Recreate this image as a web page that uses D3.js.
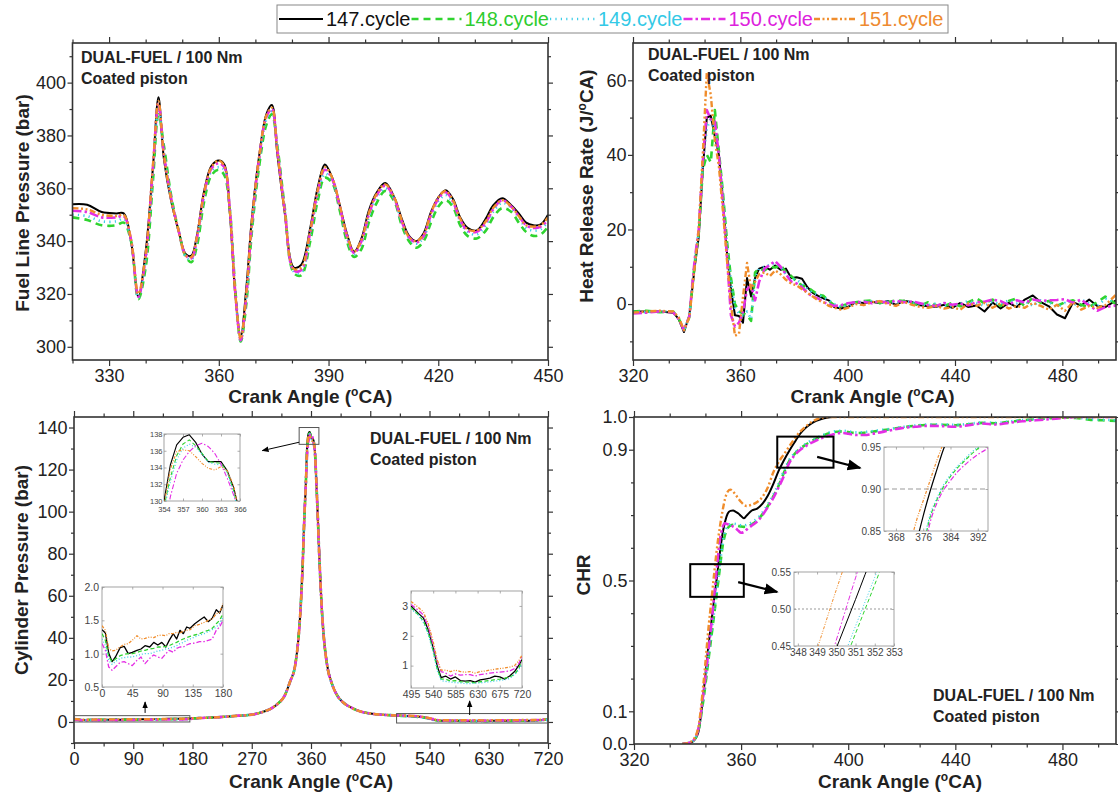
<!DOCTYPE html>
<html><head><meta charset="utf-8">
<script src="https://cdn.jsdelivr.net/npm/d3@7"></script>
<style>body{margin:0;background:#fff}svg{display:block}</style>
</head><body><svg id="c" width="1118" height="796"></svg>
<script>
// ---------------- DATA ----------------
const cycles = ["147.cycle","148.cycle","149.cycle","150.cycle","151.cycle"];

// Fuel line pressure (bar) vs crank angle
const flpAngle = [320,324,328,332,334,336,338,340,342,343.5,345,347,349,351,352.5,354,356,358,360,361.5,363,364.5,366,367.5,369,371,373,374.5,376,378,380.5,382.5,385,387,389,391,393,395,397,399,401,403,405.5,408,410,412,414,416,418,420,422,424,426,428,430.5,433,435,437.5,440,442,444,446,448,450];
const flp147 = [354,353.8,351,350.5,350.5,340,319,336,368,394.5,371,355,344,335,334.5,342,359,368.5,370.5,369,351,320,304,322,348,372,388,391.5,373,351,330,331,345,360,369,364,354,343,336,341,351.5,358,362,356.5,348.5,342,340,343,351,356.5,359.3,356,349,345,344,348.5,353.5,356.2,353.5,350.5,347,346,346.3,350];
const flp148 = [349,348,346,346,347,340,318,330,363,388,376,357,344,334,332,338,355,365,367,365,352,322,302,316,343,368,384,388,376,353,328,327,340,355,364,362,352,340,334,337,347,354,359,355,346,340,337.5,340,347,353,355.5,353,346,342,341,344,349,352.5,351,347,343.5,342,342.5,345.5];
const flp149 = [350,349.5,347.5,347.5,348.5,340,318.5,333,366,390.5,374,356,344,334,333,340,357,366.5,368,367,352,321,302.5,318,345,370,386,389,375,352,328.5,328,342,357,365.5,363,353,341.5,335,339,349,356,360,356,347,341,339,341.5,349,355,357.5,354.5,347.5,343.5,342.5,346,351,354.5,352.5,349,345,344,344.5,347.5];
const flp150 = [351.5,351,349,349,349.5,340.5,319,334,368,392,373,356,344,334.5,333.5,341,358,367.5,369.5,368,352,320.5,302.5,319,346,371,387,390,374.5,352,329,329,343.5,358.5,367,363.5,353.5,342,335.5,340,350,357,361,356,347.5,341.5,339.5,342,350,356,358.5,355,348,344,343.5,347,352,355.5,353,349.5,346,345,345.5,348];
const flp151 = [352.5,352,350,349.5,350,340.5,320,335,369,393,372.5,355.5,344,334.5,334,341.5,358.5,368,370.5,368.5,351.5,320.5,303,320,347,371.5,387.5,390.5,374,351.5,329.5,330,344,359,368,364,354,342.5,336,340.5,350.5,357.5,361.5,356.5,348,341.5,340,342.5,350.5,356.5,359,355.5,348.5,344.5,344,347.5,352.5,355.5,353,349.5,346,345.5,346,349];

// Heat release rate (J/°CA)
const hrrAngle = [320,325,330,335,337,339,341,343,344.5,346,347.5,349,350.5,352,353.5,355,356.5,358,359.5,361,362.5,364,365.5,367,369,371,373,375,377,379,381,383,385,387,389,391,393,395,397.5,400,403,406,409,412,415,418,421,424,427,430,433,436,439,442,445,448,451,454,457,460,463,466,469,472,475,478,481,484,487,490,493,496,500];
const hrr147 = [-2,-2,-2,-2.3,-4,-7.5,-3,10,18,36,50,50.5,45,40,28,14,4,-3,-3.2,-5,7,2,7,9.5,10,9.2,10.3,9.2,9.5,7,7.2,6.8,4.5,3,2.2,1.5,1,-0.8,-1.2,-0.8,0.5,0.3,0.6,0.2,0.8,-0.2,0.9,0.5,-0.3,-0.6,-0.7,-0.2,-1,0.3,-0.8,-0.4,-2,0.4,-1.2,0.3,-0.8,1.2,2.3,0.5,-0.6,-2.8,-3.8,0.5,-0.4,1.2,-0.5,-0.8,1];
const hrr148 = [-2,-1.8,-2.2,-2,-3.8,-7,-3.5,11,19,36,40,38,52,41,30,17,7,0,-2,-2.5,-3,-4.5,8.5,9.5,9,10,9.8,10.5,8.5,7.5,6,5,4.5,3.5,2.5,2.2,0.8,-0.3,-0.5,0,0.5,0.8,1,0.3,0.5,1,0.8,0.2,-0.5,0.5,-0.3,-0.5,0.3,-0.6,0.5,1.5,0.2,1.2,-0.5,0.8,1.5,-0.6,1.8,0.3,0.8,-0.5,0.5,1,-0.2,-0.8,0.5,2,0];
const hrr149 = [-2,-2.2,-1.9,-2.1,-3.8,-7.2,-3.2,11.5,19.5,38,47,50,46,40,29,16,6,-1,-2.5,-3,-2,-4,7,9.5,10,10.5,11,10,8,6.8,6.5,5.5,4,3,2.5,1.8,1,0,-0.8,-0.5,0.3,0.6,0.8,0.4,0.7,0.3,0.6,0.5,0,-0.3,0.2,-0.4,-0.6,0.2,0.8,0.3,-0.5,0.6,0,1,0.2,0.8,-0.5,1,0.5,-0.8,0.3,-0.5,1.2,0.2,-0.6,1.5,0.5];
const hrr150 = [-2.5,-2.3,-2,-2.2,-4,-7,-3.3,12,20,38,52,49.5,49,40,27,13,-3,-6,-5,-2,4,5,1,6,9.5,10.5,11.5,10,8,6,5.5,4.5,3,2,1.5,0.5,0,-0.5,-0.3,0.2,0.5,0.6,0.2,0.8,0.3,0.9,0.5,0.7,0.2,-0.3,-0.5,0.3,-0.2,0.1,-0.3,0.5,0.6,1.2,0.8,-0.2,1,0.4,1.2,0.8,1,1.1,1.3,0.3,1.2,-0.4,-1.8,-0.8,-0.4];
const hrr151 = [-2.3,-2,-1.8,-2,-3.5,-7,-3.5,10,20,40,62,56,44,37,25,12,0,-8.5,-8,2,11,4,6,8,8.5,7.5,9,8,6.5,5.5,5,4,3,2,1,0.5,-0.5,-1,-1.5,-1,0,-0.3,0.5,0.8,0,-0.5,0.6,-0.2,-0.8,-1,-0.5,-1.2,-0.8,-1.5,0.2,-0.5,0.3,-1,0.2,-1.2,-0.5,-1,0.3,-0.5,-1.5,-0.2,-1.8,0.5,-1.5,-0.5,-1,-0.3,2.5];

// Cylinder pressure (bar): intake region, peak region, exhaust region per cycle
const cpLowAngle = [0,5,10,15,20,27,33,39,45,52,58,64,71,77,83,89,95,100,106,111,116,121,126,131,138,145,152,158,164,170,175,180];
const cpLow147 = [1.36,1.31,1.01,0.88,0.95,1.09,1.11,1.0,1.02,1.05,1.07,1.12,1.1,1.17,1.13,1.17,1.1,1.2,1.3,1.22,1.35,1.3,1.4,1.38,1.45,1.5,1.55,1.48,1.53,1.66,1.61,1.73];
const cpLow148 = [1.3,1.2,0.95,0.88,0.92,0.97,0.99,1.0,1.0,1.02,1.04,1.05,1.07,1.08,1.1,1.1,1.11,1.12,1.15,1.17,1.2,1.22,1.24,1.26,1.28,1.3,1.33,1.35,1.38,1.45,1.5,1.6];
const cpLow149 = [1.22,1.12,0.9,0.84,0.88,0.93,0.94,0.95,0.95,0.97,0.99,1.0,1.0,1.02,1.04,1.05,1.07,1.08,1.1,1.12,1.15,1.17,1.2,1.22,1.25,1.28,1.3,1.33,1.36,1.4,1.45,1.55];
const cpLow150 = [1.15,1.05,0.8,0.75,0.8,0.87,0.88,0.85,0.82,0.9,0.95,0.85,0.93,0.98,0.95,0.93,1.0,1.05,1.02,1.08,1.1,1.1,1.13,1.15,1.16,1.18,1.18,1.2,1.22,1.35,1.4,1.5];
const cpLow151 = [1.42,1.35,1.08,1.04,1.05,1.1,1.14,1.15,1.2,1.27,1.22,1.23,1.25,1.24,1.27,1.28,1.27,1.3,1.3,1.32,1.31,1.34,1.35,1.36,1.42,1.44,1.47,1.5,1.52,1.6,1.62,1.75];

const cpMidLeftAngle = [190,210,230,250,270,285,300,310,320,328,336,341,344,347,350,352];
const cpMidLeft = [1.85,2.1,2.5,3.0,3.5,4.6,6.5,8.8,12.5,19,27,40,53,72,98,112];

const cpPeakAngle = [354,355,356,357,358,359,360,361,362,363,364,365,366];
const cpPeak147 = [130,134.3,136.7,137.6,137.9,137.0,135.6,134.7,134.7,134.7,133.6,131.6,128.5];
const cpPeak148 = [129.3,132.8,135.4,136.8,137.3,136.6,135.7,134.7,134.6,134.5,133.5,131.2,128];
const cpPeak149 = [129,132.3,134.9,136.3,136.8,136.4,135.6,134.6,134.4,134.3,133.3,131,127.8];
const cpPeak150 = [126.5,130.5,133.3,134.9,135.9,136.6,136.9,136.5,135.7,134.4,132.7,130.7,128.5];
const cpPeak151 = [129.5,133.8,135.9,136.1,136.0,135.3,134.5,133.9,133.7,134.1,133.6,131.8,128];

const cpMidRightAngle = [368,370,373,376,379,384,392,400,410,420,435,450,470,490];
const cpMidRight = [115,100,76,56,42,28,18,12.5,9,7,5,4,3.4,3.1];

const cpHighAngle = [495,510,520,530,540,548,556,565,575,585,595,605,615,625,635,645,655,665,675,685,695,705,713,720];
const cpHigh147 = [3.0,2.75,2.6,2.2,1.6,1.0,0.6,0.65,0.55,0.62,0.5,0.48,0.5,0.45,0.52,0.55,0.58,0.65,0.62,0.55,0.65,0.8,1.0,1.2];
const cpHigh148 = [2.95,2.7,2.5,2.1,1.5,0.9,0.55,0.55,0.48,0.5,0.46,0.45,0.45,0.42,0.46,0.48,0.5,0.53,0.55,0.58,0.62,0.7,0.9,1.15];
const cpHigh149 = [2.9,2.7,2.45,2.05,1.45,0.85,0.5,0.47,0.45,0.43,0.42,0.4,0.4,0.41,0.42,0.44,0.46,0.48,0.5,0.53,0.57,0.7,0.85,1.05];
const cpHigh150 = [3.05,2.85,2.7,2.3,1.7,1.15,0.8,0.75,0.65,0.72,0.68,0.7,0.7,0.65,0.7,0.72,0.75,0.77,0.78,0.8,0.82,0.9,1.05,1.3];
const cpHigh151 = [3.15,2.95,2.8,2.4,1.8,1.2,0.85,0.85,0.8,0.85,0.8,0.78,0.8,0.75,0.8,0.82,0.85,0.88,0.9,0.92,0.95,1.0,1.15,1.35];

// Cumulative heat release (CHR)
const chrAngle = [338,340,342,344,346,348,349,350,351,352,353,354,355,356,357,358,359,360,361,362,364,366,368,370,372,374,376,378,380,382,384,386,388,390,392,394,396,398,400,403,406,410,415,420,425,430,435,440,445,450,455,460,465,470,475,480,485,490,495,500];
const chr147 = [0,0.002,0.008,0.035,0.16,0.315,0.38,0.447,0.513,0.58,0.64,0.68,0.705,0.713,0.714,0.71,0.705,0.697,0.69,0.698,0.714,0.72,0.735,0.76,0.795,0.835,0.868,0.897,0.923,0.948,0.966,0.979,0.988,0.994,0.998,1,1,1,1,1,1,1,1,1,1,1,1,1,1,1,1,1,1,1,1,1,1,1,1,1];
const chr148 = [0,0.002,0.008,0.04,0.14,0.27,0.335,0.40,0.467,0.533,0.60,0.64,0.66,0.668,0.67,0.669,0.667,0.665,0.664,0.665,0.672,0.684,0.703,0.728,0.757,0.79,0.83,0.866,0.887,0.903,0.915,0.925,0.933,0.941,0.948,0.953,0.955,0.956,0.954,0.951,0.952,0.956,0.962,0.968,0.973,0.976,0.976,0.975,0.978,0.982,0.981,0.985,0.99,0.993,0.996,0.998,0.997,0.992,0.99,0.988];
const chr149 = [0,0.002,0.009,0.042,0.145,0.28,0.345,0.41,0.477,0.543,0.61,0.648,0.665,0.672,0.674,0.673,0.671,0.669,0.668,0.67,0.678,0.69,0.708,0.733,0.762,0.796,0.836,0.869,0.889,0.905,0.917,0.927,0.935,0.943,0.95,0.955,0.957,0.958,0.956,0.953,0.954,0.958,0.963,0.969,0.974,0.977,0.977,0.976,0.979,0.983,0.982,0.986,0.991,0.994,0.997,0.999,0.998,0.994,0.992,0.99];
const chr150 = [0,0.002,0.01,0.045,0.16,0.30,0.375,0.458,0.542,0.62,0.66,0.675,0.672,0.67,0.665,0.66,0.652,0.646,0.648,0.655,0.668,0.68,0.7,0.725,0.752,0.785,0.82,0.86,0.883,0.899,0.91,0.92,0.928,0.935,0.941,0.946,0.95,0.951,0.949,0.945,0.945,0.95,0.958,0.966,0.97,0.973,0.972,0.97,0.975,0.98,0.977,0.982,0.987,0.99,0.993,0.997,1,1,1,1];
const chr151 = [0,0.003,0.012,0.05,0.19,0.37,0.446,0.526,0.60,0.66,0.71,0.75,0.772,0.778,0.772,0.762,0.75,0.74,0.732,0.728,0.732,0.74,0.756,0.785,0.83,0.862,0.886,0.91,0.934,0.955,0.97,0.983,0.992,0.998,1,1,1,1,1,1,1,1,1,1,1,1,1,1,1,1,1,1,1,1,1,1,1,1,1,1];

// Tick labels
const flpXTicks = [330,360,390,420,450];
const flpYTicks = [300,320,340,360,380,400];
const hrrXTicks = [320,360,400,440,480];
const hrrYTicks = [0,20,40,60];
const cpXTicks = [0,90,180,270,360,450,540,630,720];
const cpYTicks = [0,20,40,60,80,100,120,140];
const chrXTicks = [320,360,400,440,480];
const chrYTicks = [0.0,0.1,0.5,0.9,1.0];
const insetPeakX = [354,357,360,363,366], insetPeakY = [130,132,134,136,138];
const insetLowX = [0,45,90,135,180], insetLowY = [0.5,1.0,1.5,2.0];
const insetHighX = [495,540,585,630,675,720], insetHighY = [1,2,3];
const insetAX = [368,376,384,392], insetAY = [0.85,0.90,0.95];
const insetBX = [348,349,350,351,352,353], insetBY = [0.45,0.50,0.55];

// ---------------- STYLE ----------------
const FONT = '"Liberation Sans", Arial, Helvetica, sans-serif';
const styles = [
  {color:"#000000", dash:null, w:2.0, sd:null},
  {color:"#2fd42f", dash:"7,5", w:2.6, sd:"4,2.5"},
  {color:"#3ccde8", dash:"1.2,4.2", w:2.6, sd:"1,2"},
  {color:"#e42ee4", dash:"9,3,2.5,3", w:2.6, sd:"5,2,1.5,2"},
  {color:"#f08d2c", dash:"6,2.5,2,2.5,2,2.5", w:2.4, sd:"3,1.5,1,1.5,1,1.5"},
];
const legendColors = ["#111111","#2fcc2f","#33c9e6","#dd22dd","#ee8a30"];

const svg = d3.select("#c");
const defs = svg.append("defs");
let clipN = 0;

function addArrowMarker(id, size) {
  defs.append("marker").attr("id", id).attr("viewBox","0 0 10 10").attr("refX",9).attr("refY",5)
    .attr("markerWidth",size).attr("markerHeight",size).attr("orient","auto").attr("markerUnits","userSpaceOnUse")
    .append("path").attr("d","M0,1 L10,5 L0,9 Z").attr("fill","#000");
}
addArrowMarker("arrS", 7);
addArrowMarker("arrB", 14);

function axisGroup(g, fn, scale, vals, size, pad, fmt, fs, tx, ty) {
  const a = fn(scale).tickValues(vals).tickSize(size).tickSizeOuter(0).tickPadding(pad).tickFormat(fmt || (()=>""));
  const s = g.append("g").attr("transform", `translate(${tx},${ty})`).call(a);
  s.select(".domain").remove();
  s.selectAll("line").attr("stroke","#333").attr("stroke-width",1.2);
  s.selectAll("text").attr("font-size", fs).attr("font-family", FONT).attr("fill","#222");
  return s;
}

function panel(o) {
  const x = d3.scaleLinear().domain(o.xDomain).range([o.left, o.right]);
  const y = d3.scaleLinear().domain(o.yDomain).range([o.bottom, o.top]);
  const g = svg.append("g");
  const id = "clip" + (clipN++);
  defs.append("clipPath").attr("id", id).append("rect")
    .attr("x", o.left).attr("y", o.top).attr("width", o.right - o.left).attr("height", o.bottom - o.top);
  const xf = o.xFmt || d3.format("d"), yf = o.yFmt || d3.format("d");
  axisGroup(g, d3.axisBottom, x, o.xTicks, 6, 3, xf, 18, 0, o.bottom);
  axisGroup(g, d3.axisBottom, x, o.xMinor, 3.5, 3, null, 18, 0, o.bottom);
  axisGroup(g, d3.axisTop, x, o.xTicks, 6, 3, null, 18, 0, o.top);
  axisGroup(g, d3.axisTop, x, o.xMinor, 3.5, 3, null, 18, 0, o.top);
  axisGroup(g, d3.axisLeft, y, o.yTicks, 5, 1.5, yf, 18, o.left, 0);
  axisGroup(g, d3.axisLeft, y, o.yMinor, 3, 1.5, null, 18, o.left, 0);
  axisGroup(g, d3.axisRight, y, o.yTicks, 5, 2, null, 18, o.right, 0);
  axisGroup(g, d3.axisRight, y, o.yMinor, 3, 2, null, 18, o.right, 0);
  const plot = g.append("g").attr("clip-path", `url(#${id})`);
  o.series.forEach((s, i) => {
    const st = styles[i];
    const line = d3.line().x(d => x(d[0])).y(d => y(d[1])).curve(o.curve || d3.curveLinear);
    plot.append("path").datum(d3.zip(s.x, s.y)).attr("d", line)
      .attr("fill","none").attr("stroke", st.color).attr("stroke-width", st.w)
      .attr("stroke-dasharray", st.dash).attr("stroke-linecap", st.cap || "butt").attr("stroke-linejoin","round");
  });
  g.append("rect").attr("x", o.left).attr("y", o.top).attr("width", o.right - o.left).attr("height", o.bottom - o.top)
    .attr("fill","none").attr("stroke","#333").attr("stroke-width",1.6);
  const xt = g.append("text").attr("x", (o.left + o.right)/2 + (o.xTitleDx||0)).attr("y", o.xTitleY)
    .attr("text-anchor","middle").attr("font-family",FONT).attr("font-weight","bold").attr("font-size",19).attr("fill","#222");
  xt.append("tspan").text("Crank Angle (");
  xt.append("tspan").text("o").attr("font-size",12).attr("dy",-7);
  xt.append("tspan").text("CA)").attr("dy",7);
  const yt = g.append("text").attr("transform", `translate(${o.yTitleX},${o.yTitleCY}) rotate(-90)`)
    .attr("text-anchor","middle").attr("font-family",FONT).attr("font-weight","bold").attr("font-size",19).attr("fill","#222");
  o.yTitle(yt);
  const a = g.append("g").attr("font-family",FONT).attr("font-weight","bold").attr("font-size",16).attr("fill","#222");
  a.append("text").attr("x", o.annX).attr("y", o.annY).text("DUAL-FUEL / 100 Nm");
  a.append("text").attr("x", o.annX).attr("y", o.annY + 21).text("Coated piston");
  return {x, y, g};
}

function inset(o) {
  const x = d3.scaleLinear().domain(o.xDomain).range([o.left, o.right]);
  const y = d3.scaleLinear().domain(o.yDomain).range([o.bottom, o.top]);
  const g = svg.append("g");
  const id = "clip" + (clipN++);
  defs.append("clipPath").attr("id", id).append("rect")
    .attr("x", o.left).attr("y", o.top).attr("width", o.right - o.left).attr("height", o.bottom - o.top);
  g.append("rect").attr("x", o.left).attr("y", o.top).attr("width", o.right - o.left).attr("height", o.bottom - o.top)
    .attr("fill","#fff").attr("stroke","#999").attr("stroke-width",0.9);
  const ax = (fn, sc, vals, fmt, tx, ty, size, pad) => {
    const a = fn(sc).tickValues(vals).tickSize(size).tickSizeOuter(0).tickPadding(pad).tickFormat(fmt || (()=>""));
    const s = g.append("g").attr("transform",`translate(${tx},${ty})`).call(a);
    s.select(".domain").remove();
    s.selectAll("line").attr("stroke","#999").attr("stroke-width",0.8);
    s.selectAll("text").attr("font-size", o.fs).attr("font-family",FONT).attr("fill","#444");
  };
  const pad = o.pad || 2, xpad = o.xpad || pad;
  ax(d3.axisBottom, x, o.xTicks, o.xFmt || d3.format("d"), 0, o.bottom, -2.5, xpad);
  ax(d3.axisTop, x, o.xTicks, null, 0, o.top, -2.5, pad);
  ax(d3.axisLeft, y, o.yTicks, o.yFmt || d3.format("d"), o.left, 0, -2.5, pad);
  ax(d3.axisRight, y, o.yTicks, null, o.right, 0, -2.5, pad);
  if (o.refY !== undefined) {
    g.append("line").attr("x1", o.left).attr("x2", o.right).attr("y1", y(o.refY)).attr("y2", y(o.refY))
      .attr("stroke","#999").attr("stroke-width",1).attr("stroke-dasharray", o.refDash);
  }
  const plot = g.append("g").attr("clip-path", `url(#${id})`);
  o.series.forEach((s, i) => {
    const st = styles[i];
    const line = d3.line().x(d => x(d[0])).y(d => y(d[1])).curve(o.curve || d3.curveLinear);
    plot.append("path").datum(d3.zip(s.x, s.y)).attr("d", line)
      .attr("fill","none").attr("stroke", st.color).attr("stroke-width", o.lw || 1.2)
      .attr("stroke-dasharray", st.sd).attr("stroke-linejoin","round");
  });
  return {x, y, g};
}

function minorThirds(lo, hi, step) {
  const out = [];
  for (let k = 0; lo + k * step / 3 <= hi + 1e-9; k++) if (k % 3 !== 0) out.push(lo + k * step / 3);
  return out;
}
function minorBetween(lo, hi, step, majorStep) {
  const out = [];
  for (let v = lo; v <= hi + 1e-9; v += step) {
    const r = ((v % majorStep) + majorStep) % majorStep;
    if (r > 1e-6 && majorStep - r > 1e-6) out.push(v);
  }
  return out;
}

// ---------------- PANEL 1: fuel line pressure ----------------
const flpSeries = [flp147, flp148, flp149, flp150, flp151].map(v => ({x: flpAngle, y: v}));
panel({
  left: 72.5, right: 548, top: 43, bottom: 360,
  xDomain: [320, 450], yDomain: [295, 415],
  xTicks: flpXTicks, xMinor: minorBetween(320, 450, 10, 30),
  yTicks: flpYTicks, yMinor: minorBetween(300, 410, 10, 20),
  series: flpSeries, curve: d3.curveCatmullRom.alpha(0.5),
  xTitleY: 403, yTitleX: 29, yTitleCY: 203,
  yTitle: t => t.text("Fuel Line Pressure (bar)"),
  annX: 81, annY: 63
});

// ---------------- PANEL 2: heat release rate ----------------
const hrrSeries = [hrr147, hrr148, hrr149, hrr150, hrr151].map(v => ({x: hrrAngle, y: v}));
panel({
  left: 633, right: 1116, top: 43, bottom: 360,
  xDomain: [320, 500], yDomain: [-15, 70],
  xTicks: hrrXTicks, xMinor: minorThirds(320, 500, 40),
  yTicks: hrrYTicks, yMinor: [-10, 10, 30, 50],
  series: hrrSeries, curve: d3.curveLinear,
  xTitleY: 403, xTitleDx: -2, yTitleX: 593, yTitleCY: 186,
  yTitle: t => { t.append("tspan").text("Heat Release Rate (J/"); t.append("tspan").text("o").attr("font-size",12).attr("dy",-7); t.append("tspan").text("CA)").attr("dy",7); },
  annX: 648, annY: 60
});

// ---------------- PANEL 3: cylinder pressure ----------------
const cpLowAll = [cpLow147, cpLow148, cpLow149, cpLow150, cpLow151];
const cpPeakAll = [cpPeak147, cpPeak148, cpPeak149, cpPeak150, cpPeak151];
const cpHighAll = [cpHigh147, cpHigh148, cpHigh149, cpHigh150, cpHigh151];
const cpMainAngle = [...cpLowAngle, ...cpMidLeftAngle, ...cpPeakAngle, ...cpMidRightAngle, ...cpHighAngle];
const cpSeries = cycles.map((c, i) => ({x: cpMainAngle, y: [...cpLowAll[i], ...cpMidLeft, ...cpPeakAll[i], ...cpMidRight, ...cpHighAll[i]]}));
const p3 = panel({
  left: 74, right: 548, top: 417, bottom: 743,
  xDomain: [0, 720], yDomain: [-10, 145],
  xTicks: cpXTicks, xMinor: [45,135,225,315,405,495,585,675],
  yTicks: cpYTicks, yMinor: [-10,10,30,50,70,90,110,130],
  series: cpSeries, curve: d3.curveMonotoneX,
  xTitleY: 788, yTitleX: 28, yTitleCY: 570,
  yTitle: t => t.text("Cylinder Pressure (bar)"),
  annX: 370, annY: 444
});
const markBoxes3 = [[342,372,132,140],[0,176,0,3],[490,720,-0.5,4]];
markBoxes3.forEach(b => p3.g.append("rect").attr("x", p3.x(b[0])).attr("y", p3.y(b[3]))
  .attr("width", p3.x(b[1]) - p3.x(b[0])).attr("height", p3.y(b[2]) - p3.y(b[3]))
  .attr("fill","none").attr("stroke","#555").attr("stroke-width",1));
const arrows3 = [[342,133,286,129],[108,4.3,108,9.5],[601,3.3,601,10]];
arrows3.forEach(a => p3.g.append("line").attr("x1",p3.x(a[0])).attr("y1",p3.y(a[1])).attr("x2",p3.x(a[2])).attr("y2",p3.y(a[3]))
  .attr("stroke","#000").attr("stroke-width",1).attr("marker-end","url(#arrS)"));

inset({left:164, right:240, top:434, bottom:501, xDomain:[354,366], yDomain:[130,138],
  xTicks: insetPeakX, yTicks: insetPeakY, fs: 7.5, pad: 1.5, xpad: 5.5,
  series: cpPeakAll.map(v => ({x: cpPeakAngle, y: v})), lw: 1.1});
inset({left:102, right:223, top:587, bottom:687, xDomain:[0,180], yDomain:[0.5,2.0],
  xTicks: insetLowX, yTicks: insetLowY, yFmt: d3.format(".1f"), fs: 10.5, pad: 3,
  series: cpLowAll.map(v => ({x: cpLowAngle, y: v})), lw: 1.3});
inset({left:411, right:522, top:591, bottom:688, xDomain:[495,720], yDomain:[0.25,3.5],
  xTicks: insetHighX, yTicks: insetHighY, fs: 10.5, pad: 3,
  series: cpHighAll.map(v => ({x: cpHighAngle, y: v})), lw: 1.3});

// ---------------- PANEL 4: CHR ----------------
const chrSeries = [chr147, chr148, chr149, chr150, chr151].map(v => ({x: chrAngle, y: v}));
const p4 = panel({
  left: 634, right: 1116, top: 417, bottom: 744,
  xDomain: [320, 500], yDomain: [0, 1],
  xTicks: chrXTicks, xMinor: minorThirds(320, 500, 40),
  yTicks: chrYTicks, yMinor: [0.2,0.3,0.4,0.6,0.7,0.8],
  xFmt: d3.format("d"), yFmt: d3.format(".1f"),
  series: chrSeries, curve: d3.curveMonotoneX,
  xTitleY: 788, xTitleDx: 25, yTitleX: 590, yTitleCY: 575,
  yTitle: t => t.text("CHR"),
  annX: 933, annY: 701
});
const markBoxes4 = [[341,361,0.45,0.55],[373.5,394.5,0.845,0.94]];
markBoxes4.forEach(b => p4.g.append("rect").attr("x", p4.x(b[0])).attr("y", p4.y(b[3]))
  .attr("width", p4.x(b[1]) - p4.x(b[0])).attr("height", p4.y(b[2]) - p4.y(b[3]))
  .attr("fill","none").attr("stroke","#000").attr("stroke-width",2));
const arrows4 = [[358.9,0.495,373.5,0.465],[388.4,0.878,404.5,0.844]];
arrows4.forEach(a => p4.g.append("line").attr("x1",p4.x(a[0])).attr("y1",p4.y(a[1])).attr("x2",p4.x(a[2])).attr("y2",p4.y(a[3]))
  .attr("stroke","#000").attr("stroke-width",2.2).attr("marker-end","url(#arrB)"));

inset({left:884, right:988, top:447, bottom:531, xDomain:[364.5,395], yDomain:[0.85,0.95],
  xTicks: insetAX, yTicks: insetAY, yFmt: d3.format(".2f"), fs: 10, pad: 3,
  refY: 0.90, refDash: "5,3", curve: d3.curveMonotoneX,
  series: chrSeries, lw: 1.2});
inset({left:794, right:894, top:572, bottom:646, xDomain:[347.8,353], yDomain:[0.45,0.55],
  xTicks: insetBX, yTicks: insetBY, yFmt: d3.format(".2f"), fs: 10, pad: 3,
  refY: 0.50, refDash: "2,2", curve: d3.curveMonotoneX,
  series: chrSeries, lw: 1});

// ---------------- LEGEND ----------------
const lg = svg.append("g");
lg.append("rect").attr("x",277).attr("y",5).attr("width",671).attr("height",28)
  .attr("fill","#fff").attr("stroke","#888").attr("stroke-width",1);
const lineLens = [44, 50, 45, 42, 42];
let lx = 279;
cycles.forEach((c, i) => {
  const st = styles[i];
  lg.append("line").attr("x1", lx).attr("x2", lx + lineLens[i]).attr("y1", 19).attr("y2", 19)
    .attr("stroke", st.color).attr("stroke-width", st.w).attr("stroke-dasharray", st.dash).attr("stroke-linecap", st.cap || "butt");
  const t = lg.append("text").attr("x", lx + lineLens[i] + 3).attr("y", 26).text(c)
    .attr("font-family", FONT).attr("font-size", 20).attr("fill", legendColors[i]);
  lx = lx + lineLens[i] + 3 + t.node().getComputedTextLength() + 1;
});
</script></body></html>
